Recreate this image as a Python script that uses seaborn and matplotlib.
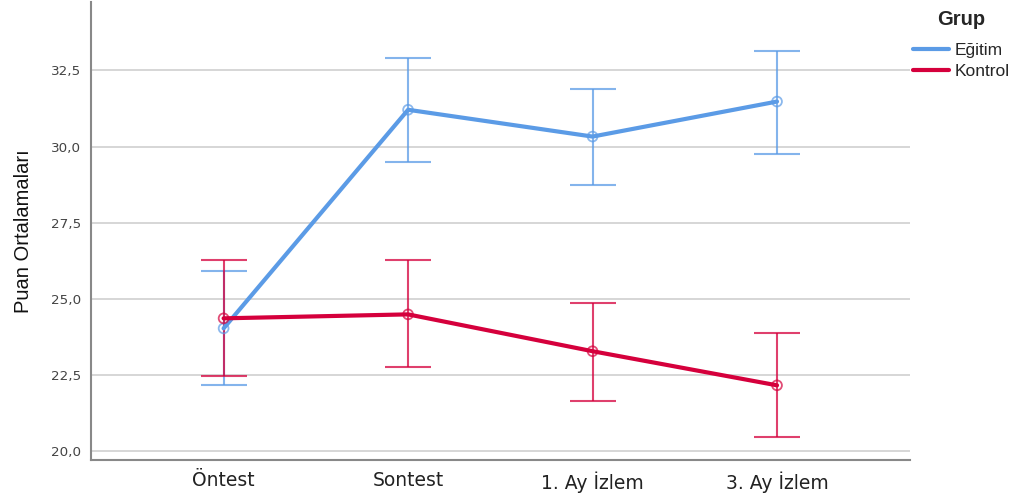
import matplotlib
matplotlib.use("Agg")
import matplotlib.pyplot as plt
import seaborn as sns
import pandas as pd

# Measurement times and group summary (means with 95% CI bounds)
times = ["Öntest", "Sontest", "1. Ay İzlem", "3. Ay İzlem"]
groups = ["Eğitim", "Kontrol"]

egitim_mean = [24.03, 31.21, 30.33, 31.48]
egitim_low = [22.16, 29.48, 28.75, 29.77]
egitim_high = [25.90, 32.92, 31.90, 33.15]

kontrol_mean = [24.36, 24.49, 23.28, 22.16]
kontrol_low = [22.46, 22.75, 21.64, 20.46]
kontrol_high = [26.26, 26.26, 24.85, 23.87]

y_ticks = [20.0, 22.5, 25.0, 27.5, 30.0, 32.5]

colors = {"Eğitim": "#5B9BE6", "Kontrol": "#D5003C"}

df = pd.DataFrame({
    "Zaman": list(range(len(times))) * 2,
    "Grup": [groups[0]] * len(times) + [groups[1]] * len(times),
    "Ortalama": egitim_mean + kontrol_mean,
    "Alt": egitim_low + kontrol_low,
    "Ust": egitim_high + kontrol_high,
})

sns.set_theme(style="white")
plt.rcParams["font.family"] = ["Liberation Sans", "DejaVu Sans"]

fig, ax = plt.subplots(figsize=(10.2, 4.97), dpi=100)
fig.subplots_adjust(left=0.089, right=0.892, top=0.996, bottom=0.074)

for y in y_ticks:
    ax.axhline(y, color="#CFCFCF", lw=1.2, zorder=0)

# Confidence interval bars
for g in groups:
    sub = df[df["Grup"] == g]
    ax.errorbar(sub["Zaman"], sub["Ortalama"],
                yerr=[sub["Ortalama"] - sub["Alt"], sub["Ust"] - sub["Ortalama"]],
                fmt="none", ecolor=colors[g], alpha=0.75, elinewidth=1.5,
                capsize=16.5, capthick=1.5, zorder=2)

sns.lineplot(data=df, x="Zaman", y="Ortalama", hue="Grup", palette=colors,
             hue_order=groups, linewidth=3, ax=ax, zorder=3, legend=False)
for g in groups:
    sub = df[df["Grup"] == g]
    ax.scatter(sub["Zaman"], sub["Ortalama"], s=50, facecolors="none",
               edgecolors=colors[g], linewidths=1.3, alpha=0.7, zorder=4)

ax.set_xlim(-0.72, 3.72)
ax.set_ylim(19.7, 34.75)
ax.set_xticks(range(len(times)))
ax.set_xticklabels(times, fontsize=13.5, color="#222222", family="DejaVu Sans")
ax.set_yticks(y_ticks)
ax.set_yticklabels([f"{v:.1f}".replace(".", ",") for v in y_ticks],
                   fontsize=9.7, color="#444444", family="DejaVu Sans")
ax.tick_params(axis="y", length=0, pad=7)
ax.tick_params(axis="x", length=0, pad=8)
ax.set_xlabel("")
ax.set_ylabel("Puan Ortalamaları", fontsize=14.5, color="#111111", labelpad=13)

for side in ["top", "right"]:
    ax.spines[side].set_visible(False)
for side in ["left", "bottom"]:
    ax.spines[side].set_color("#888888")
    ax.spines[side].set_linewidth(1.5)

handles = [plt.Line2D([0], [0], color=colors[g], lw=3) for g in groups]
leg = fig.legend(handles, groups, title="Grup", loc="upper left",
                 bbox_to_anchor=(913 / 1020, 1 - 10 / 497), frameon=False,
                 fontsize=12.5, borderpad=0, borderaxespad=0,
                 title_fontproperties={"weight": "bold", "size": 14.5},
                 handlelength=2.1, handletextpad=0.3, labelspacing=0.32)
leg._legend_box.sep = 10

fig.savefig("out.png", dpi=100)
